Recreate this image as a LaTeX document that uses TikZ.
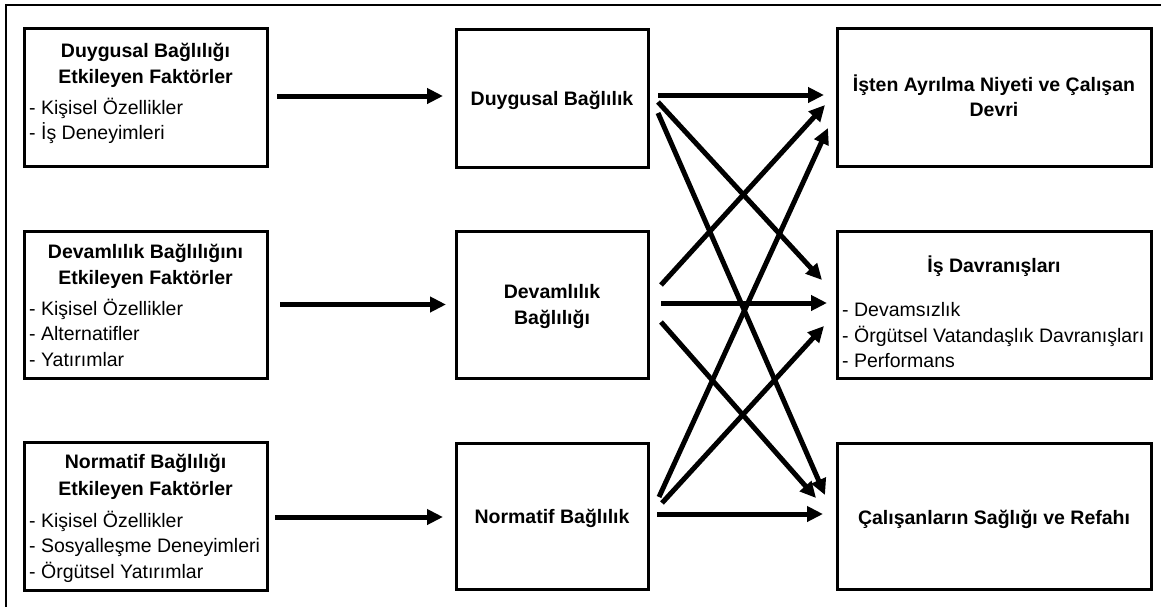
\documentclass[tikz,border=0pt]{standalone}
\usepackage{fontspec}
\setmainfont{Liberation Sans}
\usetikzlibrary{arrows.meta,calc}
\tikzset{
  box/.style={draw, line width=3pt, inner sep=0pt, outer sep=0pt},
  ttl/.style={font=\bfseries, anchor=base, inner sep=0pt},
  itm/.style={anchor=base west, inner sep=0pt},
  arr/.style={line width=5pt, -{Triangle[length=16pt,width=15pt]}},
  frame/.style={draw, line width=2.5pt}
}
\begin{document}
\fontsize{19.5}{25}\selectfont
\begin{tikzpicture}[x=1pt,y=-1pt]
\useasboundingbox (0,0) rectangle (1161,606);
\clip (0,0) rectangle (1161,606);
\path[frame] (6,5) rectangle (1180,625);

% boxes
\node[box, minimum width=243pt, minimum height=138pt] (L1) at (145.5,97) {};
\node[box, minimum width=243pt, minimum height=147pt] (L2) at (145.5,304.5) {};
\node[box, minimum width=243pt, minimum height=148pt] (L3) at (145.5,516) {};
\node[box, minimum width=192pt, minimum height=138pt] (M1) at (552,98) {};
\node[box, minimum width=192pt, minimum height=147pt] (M2) at (552,304.5) {};
\node[box, minimum width=192pt, minimum height=146pt] (M3) at (552,516) {};
\node[box, minimum width=314pt, minimum height=138pt] (R1) at (994,97) {};
\node[box, minimum width=314pt, minimum height=147pt] (R2) at (994,304.5) {};
\node[box, minimum width=314pt, minimum height=146pt] (R3) at (994,516) {};

% left texts
\node[ttl] (L1a) at (145.5,57) {Duygusal Bağlılığı};
\node[ttl] (L1b) at (145.5,83) {Etkileyen Faktörler};
\node[itm] (L1c) at (29,114) {- Kişisel Özellikler};
\node[itm] (L1d) at (29,139) {- İş Deneyimleri};

\node[ttl] (L2a) at (145.5,258) {Devamlılık Bağlılığını};
\node[ttl] (L2b) at (145.5,284) {Etkileyen Faktörler};
\node[itm] (L2c) at (29,315) {- Kişisel Özellikler};
\node[itm] (L2d) at (29,340) {- Alternatifler};
\node[itm] (L2e) at (29,366) {- Yatırımlar};

\node[ttl] (L3a) at (145.5,468) {Normatif Bağlılığı};
\node[ttl] (L3b) at (145.5,495) {Etkileyen Faktörler};
\node[itm] (L3c) at (29,527) {- Kişisel Özellikler};
\node[itm] (L3d) at (29,552) {- Sosyalleşme Deneyimleri};
\node[itm] (L3e) at (29,578) {- Örgütsel Yatırımlar};

% middle texts
\node[ttl] (M1a) at (552,105) {Duygusal Bağlılık};
\node[ttl] (M2a) at (552,298) {Devamlılık};
\node[ttl] (M2b) at (552,324) {Bağlılığı};
\node[ttl] (M3a) at (552,523) {Normatif Bağlılık};

% right texts
\node[ttl] (R1a) at (994,91) {İşten Ayrılma Niyeti ve Çalışan};
\node[ttl] (R1b) at (994,116) {Devri};
\node[ttl] (R2a) at (994,272) {İş Davranışları};
\node[itm] (R2b) at (842,316) {- Devamsızlık};
\node[itm] (R2c) at (842,342) {- Örgütsel Vatandaşlık Davranışları};
\node[itm] (R2d) at (842,367) {- Performans};
\node[ttl] (R3a) at (994,524) {Çalışanların Sağlığı ve Refahı};

% arrows left -> middle
\draw[arr] ($(L1.east)+(10,-1)$) -- ($(M1.west)+(-13,-2)$);
\draw[arr] ($(L2.east)+(13,0)$) -- ($(M2.west)+(-10,0)$);
\draw[arr] ($(L3.east)+(8,1)$) -- ($(M3.west)+(-13,1)$);

% arrows middle -> right
\draw[arr] ($(M1.east)+(10,-3)$) -- ($(R1.west)+(-13,-2)$);
\draw[arr] ($(M1.east)+(10,4)$) -- ($(R2.west)+(-15,-24.5)$);
\draw[arr] ($(M1.east)+(10,15)$) -- ($(R3.west)+(-12,-21)$);

\draw[arr] ($(M2.east)+(13,-19.5)$) -- ($(R1.west)+(-12,8)$);
\draw[arr] ($(M2.east)+(13,-1.5)$) -- ($(R2.west)+(-10,-1.5)$);
\draw[arr] ($(M2.east)+(13,17.5)$) -- ($(R3.west)+(-21,-18)$);

\draw[arr] ($(M3.east)+(11,-19)$) -- ($(R1.west)+(-9,31)$);
\draw[arr] ($(M3.east)+(14,-13)$) -- ($(R2.west)+(-13,21.5)$);
\draw[arr] ($(M3.east)+(9,-2)$) -- ($(R3.west)+(-14,-2)$);
\end{tikzpicture}
\end{document}
